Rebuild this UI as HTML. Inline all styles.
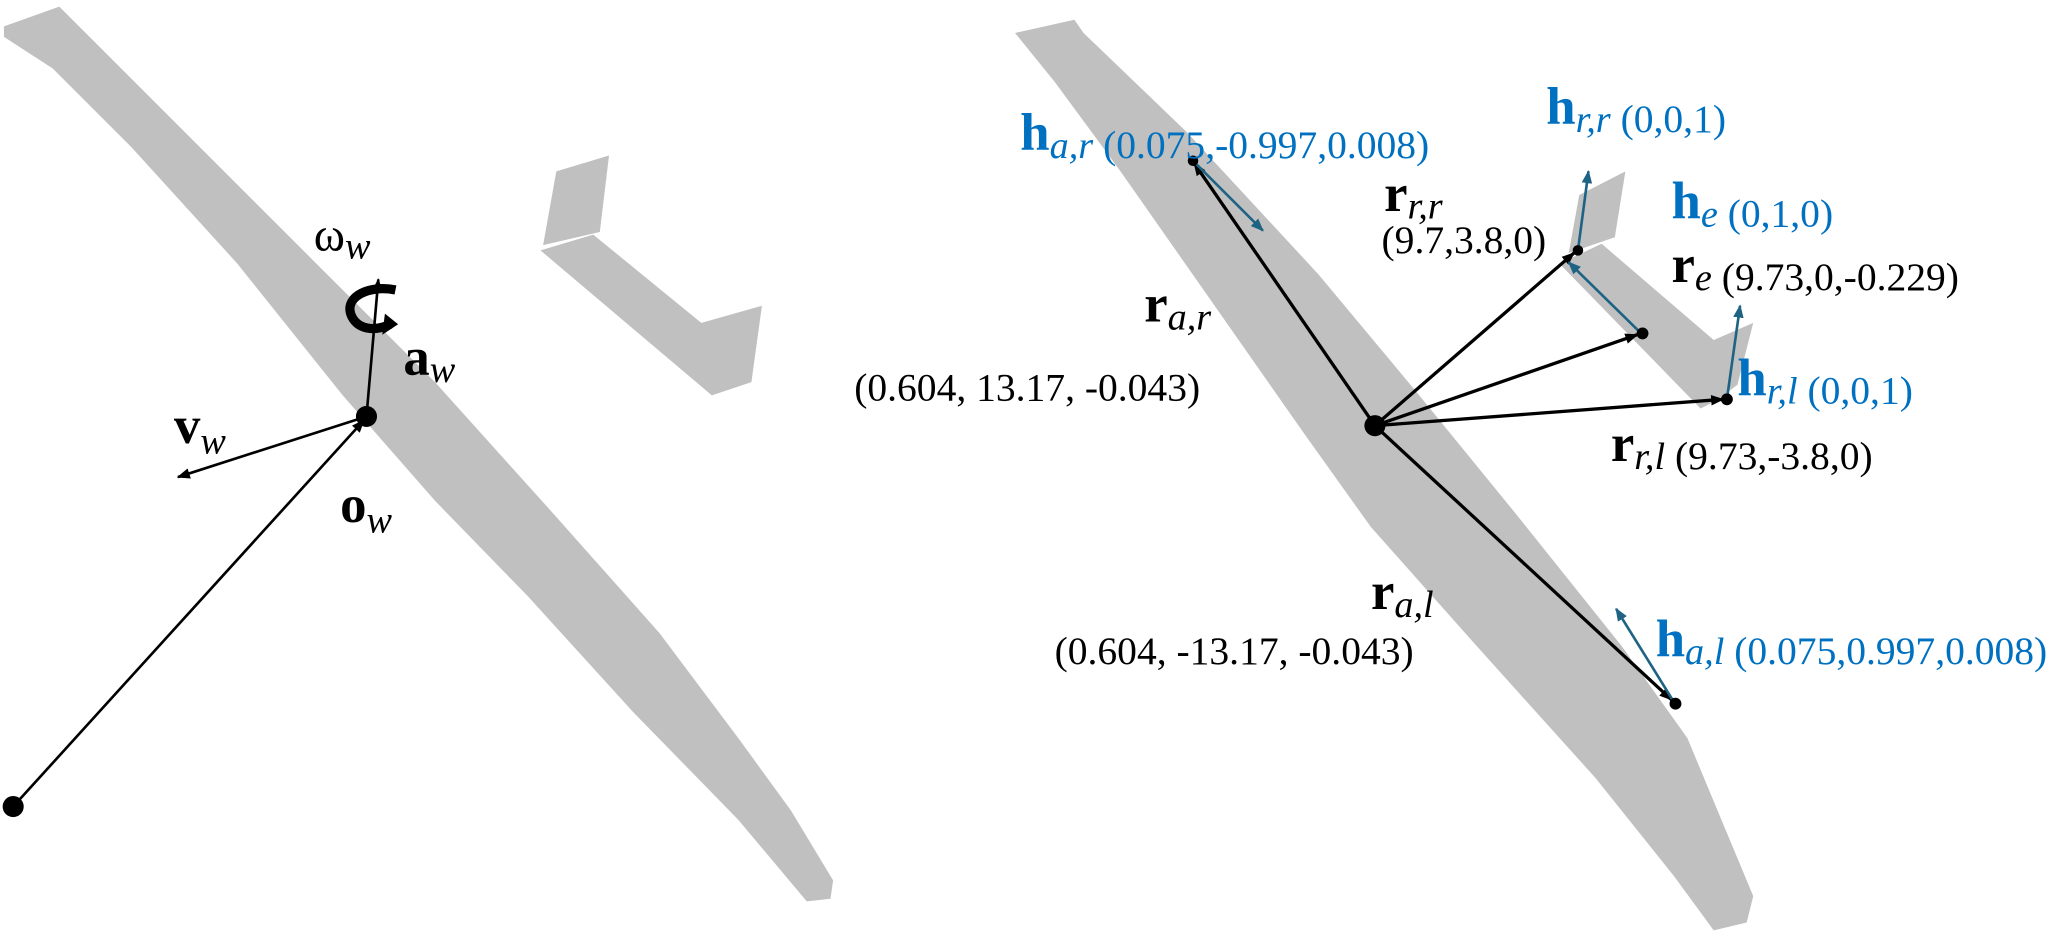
<!DOCTYPE html>
<html><head><meta charset="utf-8"><style>
html,body{margin:0;padding:0;background:#fff;}
svg{display:block;}
text{font-family:"Liberation Serif",serif;}
.b{font-weight:bold;font-size:40px;}
.s{font-style:italic;font-size:29px;}
.n{font-size:30px;}
.bl{fill:#0070c0;}
</style></head><body>
<svg width="2067" height="937" viewBox="0 0 1568 711" preserveAspectRatio="none" xmlns="http://www.w3.org/2000/svg">
<defs>
<marker id="ak" markerWidth="10" markerHeight="8" refX="9" refY="4" orient="auto" markerUnits="userSpaceOnUse"><path d="M0,0 L10,4 L0,8 Z" fill="#000"/></marker>
<marker id="ab" markerWidth="10" markerHeight="8" refX="9" refY="4" orient="auto" markerUnits="userSpaceOnUse"><path d="M0,0 L10,4 L0,8 Z" fill="#1f6384"/></marker>
</defs>
<g fill="#c0c0c0">
<polygon points="3,20 45,5 52,12 150,110 240,200 330,290 420,390 500,480 560,560 600,615 632,668 630,682 612,684 560,622 480,540 400,452 330,380 260,300 180,200 100,112 40,52 3,28"/>
<polygon points="422,130 462,118 455,176 412,186"/>
<polygon points="410,190 450,178 532,245 578,232 570,290 540,300"/>
<polygon points="770,25 815,15 822,25 900,100 1000,208 1075,298 1150,390 1230,490 1280,560 1305,620 1330,680 1325,700 1300,706 1270,665 1210,590 1120,490 1040,400 990,330 920,230 850,130 800,62"/>
<polygon points="1198,148 1233,130 1225,180 1190,192"/>
<polygon points="1183,200 1215,185 1300,258 1330,245 1318,292 1300,305 1290,310"/>
</g>
<line x1="10" y1="612" x2="276" y2="319" stroke="#000" stroke-width="2" marker-end="url(#ak)"/>
<circle cx="10" cy="612" r="8" fill="#000"/>
<line x1="278" y1="316" x2="135" y2="362" stroke="#000" stroke-width="2" marker-end="url(#ak)"/>
<line x1="278" y1="316" x2="287" y2="212" stroke="#000" stroke-width="2" marker-end="url(#ak)"/>
<circle cx="278" cy="316" r="8" fill="#000"/>
<path d="M300,220 C280,216 262,225 266,238 C270,250 284,252 296,246" fill="none" stroke="#000" stroke-width="7"/>
<path d="M292,238 L302,246 L290,254 Z" fill="#000"/>
<text x="238" y="190"><tspan font-size="36">ω</tspan><tspan class="s" dy="6">w</tspan></text>
<text x="306" y="284"><tspan class="b">a</tspan><tspan class="s" dy="6">w</tspan></text>
<text x="132" y="336"><tspan class="b">v</tspan><tspan class="s" dy="8">w</tspan></text>
<text x="258" y="396"><tspan class="b">o</tspan><tspan class="s" dy="8">w</tspan></text>
<g stroke="#000" stroke-width="2.5">
<line x1="1043" y1="323" x2="906" y2="124" marker-end="url(#ak)"/>
<line x1="1043" y1="323" x2="1194" y2="192" marker-end="url(#ak)"/>
<line x1="1043" y1="323" x2="1242" y2="254" marker-end="url(#ak)"/>
<line x1="1043" y1="323" x2="1307" y2="303" marker-end="url(#ak)"/>
<line x1="1043" y1="323" x2="1268" y2="531" marker-end="url(#ak)"/>
</g>
<g stroke="#1f6384" stroke-width="2">
<line x1="907" y1="124" x2="958" y2="175" marker-end="url(#ab)"/>
<line x1="1197" y1="190" x2="1205" y2="130" marker-end="url(#ab)"/>
<line x1="1245" y1="253" x2="1190" y2="199" marker-end="url(#ab)"/>
<line x1="1310" y1="303" x2="1320" y2="232" marker-end="url(#ab)"/>
<line x1="1270" y1="533" x2="1226" y2="462" marker-end="url(#ab)"/>
</g>
<circle cx="1043" cy="323" r="8" fill="#000"/>
<circle cx="905" cy="122" r="4" fill="#000"/>
<circle cx="1197" cy="190" r="4" fill="#000"/>
<circle cx="1246" cy="253" r="4.5" fill="#000"/>
<circle cx="1310" cy="303" r="4.5" fill="#000"/>
<circle cx="1271" cy="534" r="4.5" fill="#000"/>
<text x="774" y="114" class="bl"><tspan class="b">h</tspan><tspan class="s" dy="6">a,r</tspan><tspan class="n"> (0.075,-0.997,0.008)</tspan></text>
<text x="1173" y="94" class="bl"><tspan class="b">h</tspan><tspan class="s" dy="6">r,r</tspan><tspan class="n"> (0,0,1)</tspan></text>
<text x="1050" y="160"><tspan class="b">r</tspan><tspan class="s" dy="6">r,r</tspan></text>
<text x="1048" y="192" class="n">(9.7,3.8,0)</text>
<text x="1268" y="166" class="bl"><tspan class="b">h</tspan><tspan class="s" dy="6">e</tspan><tspan class="n"> (0,1,0)</tspan></text>
<text x="1268" y="214"><tspan class="b">r</tspan><tspan class="s" dy="6">e</tspan><tspan class="n"> (9.73,0,-0.229)</tspan></text>
<text x="1318" y="300" class="bl"><tspan class="b">h</tspan><tspan class="s" dy="6">r,l</tspan><tspan class="n"> (0,0,1)</tspan></text>
<text x="1222" y="350"><tspan class="b">r</tspan><tspan class="s" dy="6">r,l</tspan><tspan class="n"> (9.73,-3.8,0)</tspan></text>
<text x="868" y="244"><tspan class="b">r</tspan><tspan class="s" dy="6">a,r</tspan></text>
<text x="648" y="304" class="n">(0.604, 13.17, -0.043)</text>
<text x="1040" y="462"><tspan class="b">r</tspan><tspan class="s" dy="6">a,l</tspan></text>
<text x="800" y="504" class="n">(0.604, -13.17, -0.043)</text>
<text x="1256" y="498" class="bl"><tspan class="b">h</tspan><tspan class="s" dy="6">a,l</tspan><tspan class="n"> (0.075,0.997,0.008)</tspan></text>
</svg>
</body></html>
